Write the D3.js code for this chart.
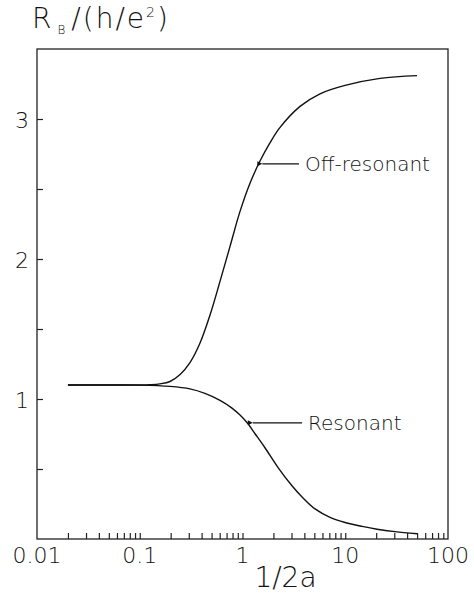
<!DOCTYPE html>
<html lang="en">
	<head>
		<meta charset="utf-8">
		<title>R_B vs 1/2a</title>
		<script type="text/javascript" src="https://cdn.jsdelivr.net/npm/d3@7/dist/d3.min.js"></script>
		<style type="text/css">
			body {
				margin: 0;
				background: white;
			}
			text {
				font-family: "DejaVu Sans", sans-serif;
				font-weight: 200;
				fill: #111;
			}
			.axis path,
			.axis line {
				stroke: #222;
				stroke-width: 1.2;
			}
		</style>
	</head>
	<body>
		<script type="text/javascript">
			//Width and height
			var w = 474;
			var h = 594;
			var padLeft = 37, padRight = 448, padTop = 49, padBottom = 539;

			//Data
			var offX = [0.02, 0.05, 0.1, 0.126, 0.157, 0.197, 0.247, 0.308, 0.386, 0.483, 0.604, 0.756, 0.946, 1.18, 1.48, 1.85, 2.32, 3.63, 5.68, 9.96, 21.8, 50];
			var offY = [1.1, 1.1, 1.1, 1.102, 1.108, 1.125, 1.175, 1.26, 1.40, 1.60, 1.84, 2.09, 2.34, 2.54, 2.70, 2.83, 2.94, 3.09, 3.18, 3.24, 3.29, 3.31];
			var resX = [0.02, 0.05, 0.1, 0.197, 0.308, 0.431, 0.604, 0.79, 0.946, 1.11, 1.33, 1.66, 2.22, 3.03, 3.8, 5.08, 7.11, 9.96, 14.6, 20.4, 30.5, 50];
			var resY = [1.1, 1.1, 1.099, 1.09, 1.072, 1.04, 0.99, 0.935, 0.885, 0.83, 0.75, 0.65, 0.51, 0.38, 0.30, 0.215, 0.155, 0.118, 0.09, 0.07, 0.053, 0.038];

			var xTickLabels = ["0.01", "0.1", "1", "10", "100"];
			var xMajor = [0.01, 0.1, 1, 10, 100];
			var yTickValues = [0.5, 1, 1.5, 2, 2.5, 3];
			var yTickLabels = ["1", "2", "3"];

			var labels = [
				{ text: "Off-resonant", tip: [1.56, 2.68], tail: [3.55, 2.68] },
				{ text: "Resonant", tip: [1.26, 0.83], tail: [3.8, 0.83] }
			];

			//Scales
			var xScale = d3.scaleLog()
				.domain([0.01, 100])
				.range([padLeft, padRight]);

			var yScale = d3.scaleLinear()
				.domain([0, 3.5])
				.range([padBottom, padTop]);

			//Minor ticks 2..9 in each decade
			var xTicks = [];
			for (var k = -2; k < 2; k++) {
				for (var m = 1; m < 10; m++) {
					if (k == -2 && m == 1) continue;
					xTicks.push(m * Math.pow(10, k));
				}
			}

			var svg = d3.select("body")
				.append("svg")
				.attr("width", w)
				.attr("height", h);

			//Frame
			svg.append("rect")
				.attr("x", padLeft)
				.attr("y", padTop)
				.attr("width", padRight - padLeft)
				.attr("height", padBottom - padTop)
				.attr("fill", "none")
				.attr("stroke", "#222")
				.attr("stroke-width", 1.3);

			//Axes with inward ticks
			var xAxis = d3.axisTop(xScale)
				.tickValues(xTicks)
				.tickSize(6)
				.tickFormat("");

			svg.append("g")
				.attr("class", "x axis")
				.attr("transform", "translate(0," + padBottom + ")")
				.call(xAxis)
				.select(".domain").remove();

			var yAxis = d3.axisRight(yScale)
				.tickValues(yTickValues)
				.tickSize(6)
				.tickFormat("");

			svg.append("g")
				.attr("class", "y axis")
				.attr("transform", "translate(" + padLeft + ",0)")
				.call(yAxis)
				.select(".domain").remove();

			//Tick labels
			svg.selectAll(".xlab")
				.data(xMajor)
				.enter()
				.append("text")
				.attr("class", "xlab")
				.attr("x", function(d) { return xScale(d); })
				.attr("y", padBottom + 24)
				.attr("text-anchor", "middle")
				.style("font-size", "22px")
				.text(function(d, i) { return xTickLabels[i]; });

			svg.selectAll(".ylab")
				.data(yTickLabels)
				.enter()
				.append("text")
				.attr("class", "ylab")
				.attr("x", padLeft - 8)
				.attr("y", function(d) { return yScale(+d) + 9; })
				.attr("text-anchor", "end")
				.style("font-size", "22px")
				.text(function(d) { return d; });

			//Axis titles
			svg.append("text")
				.attr("x", (padLeft + padRight) / 2 + 43)
				.attr("y", 587)
				.attr("text-anchor", "middle")
				.style("font-size", "28px")
				.text("1/2a");

			var title = svg.append("text")
				.attr("x", 32)
				.attr("y", 28)
				.style("font-size", "28px")
				.style("letter-spacing", "2px");
			title.append("tspan").text("R");
			title.append("tspan").attr("dy", 6).attr("dx", 4).style("font-size", "12px").text("B");
			title.append("tspan").attr("dy", -6).attr("dx", 4).text("/(h/e");
			title.append("tspan").attr("dy", -11).style("font-size", "14px").text("2");
			title.append("tspan").attr("dy", 11).text(")");

			//Curves
			var line = d3.line()
				.x(function(d) { return xScale(d[0]); })
				.y(function(d) { return yScale(d[1]); })
				.curve(d3.curveCatmullRom.alpha(0.5));

			var offData = d3.zip(offX, offY);
			var resData = d3.zip(resX, resY);

			svg.append("path")
				.datum(offData)
				.attr("d", line)
				.attr("fill", "none")
				.attr("stroke", "#111")
				.attr("stroke-width", 1.4);

			svg.append("path")
				.datum(resData)
				.attr("d", line)
				.attr("fill", "none")
				.attr("stroke", "#111")
				.attr("stroke-width", 1.4);

			//Arrows and labels
			svg.append("defs")
				.append("marker")
				.attr("id", "head")
				.attr("viewBox", "0 0 10 10")
				.attr("refX", 0)
				.attr("refY", 5)
				.attr("markerWidth", 10)
				.attr("markerHeight", 5)
				.attr("markerUnits", "userSpaceOnUse")
				.attr("orient", "auto-start-reverse")
				.append("path")
				.attr("d", "M0,5L10,0L10,10Z")
				.attr("fill", "#111");

			svg.selectAll(".arrow")
				.data(labels)
				.enter()
				.append("line")
				.attr("class", "arrow")
				.attr("x1", function(d) { return xScale(d.tip[0]); })
				.attr("y1", function(d) { return yScale(d.tip[1]); })
				.attr("x2", function(d) { return xScale(d.tail[0]); })
				.attr("y2", function(d) { return yScale(d.tail[1]); })
				.attr("stroke", "#111")
				.attr("stroke-width", 1.2)
				.attr("marker-start", "url(#head)");

			svg.selectAll(".note")
				.data(labels)
				.enter()
				.append("text")
				.attr("class", "note")
				.attr("x", function(d) { return xScale(d.tail[0]) + 6; })
				.attr("y", function(d) { return yScale(d.tail[1]) + 7; })
				.style("font-size", "20px")
				.text(function(d) { return d.text; });
		</script>
</body>
</html>
